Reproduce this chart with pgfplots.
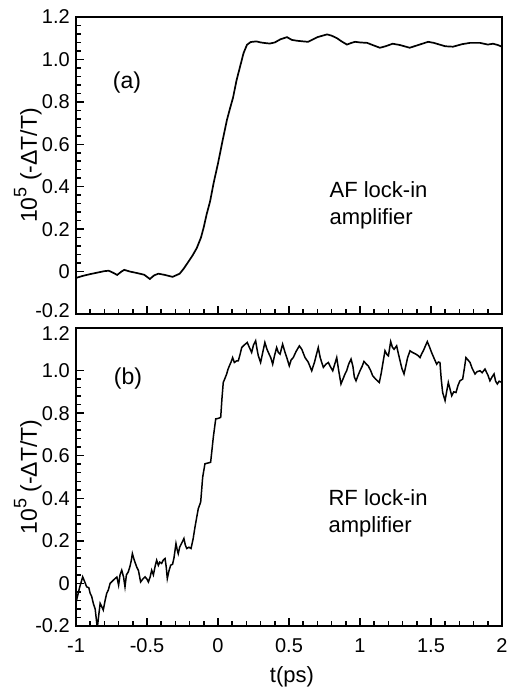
\documentclass[border=0pt]{standalone}
\usepackage{fontspec}
\setmainfont{Liberation Sans}
\usepackage{pgfplots}
\pgfplotsset{compat=1.18}

\pgfplotsset{
  panel/.style={
    scale only axis, width=426pt,
    xmin=-1, xmax=2, ymin=-0.2, ymax=1.2,
    xtick={-1,-0.5,0,0.5,1,1.5,2},
    minor x tick num=4, minor y tick num=4,
    tick align=inside, xtick pos=left, ytick pos=left,
    major tick length=8pt, minor tick length=5pt,
    every tick/.style={black, line width=1.5pt},
    axis line style={line width=2pt},
    ticklabel style={font=\fontsize{20}{22}\selectfont},
    xticklabel style={yshift=-9pt},
    yticklabel style={inner xsep=6pt, inner ysep=0pt},
    ylabel={10\raisebox{0.45em}{\fontsize{18}{20}\selectfont 5} (-ΔT/T)},
    ylabel style={font=\fontsize{23}{26}\selectfont, at={(axis description cs:-0.113,0.5)}, anchor=center},
  },
}

\begin{document}
\begin{tikzpicture}
\useasboundingbox (0,0) rectangle (508pt,690pt);

% (a) AF lock-in
\begin{axis}[panel, height=297pt, at={(76pt,376pt)}, anchor=south west,
  xticklabels={},
  ytick={0,0.2,0.4,0.6,0.8,1.0,1.2},
  yticklabels={0,0.2,0.4,0.6,0.8,1.0,1.2},
  extra y ticks={-0.2}, extra y tick labels={-0.2},
  extra y tick style={yticklabel style={yshift=3pt}}]
\addplot[black, line width=1.7pt] coordinates {
(-1.00,-0.030) (-0.95,-0.020) (-0.90,-0.012) (-0.85,-0.005) (-0.80,0.002)
(-0.77,0.004) (-0.74,-0.005) (-0.71,-0.016) (-0.68,0.000) (-0.66,0.008)
(-0.62,0.000) (-0.57,-0.007) (-0.52,-0.015) (-0.48,-0.035) (-0.45,-0.018)
(-0.42,-0.010) (-0.38,-0.015) (-0.32,-0.025) (-0.27,-0.010) (-0.24,0.015)
(-0.21,0.045) (-0.18,0.075) (-0.15,0.110) (-0.12,0.160) (-0.10,0.210)
(-0.08,0.270) (-0.056,0.330) (-0.03,0.420) (0.00,0.510) (0.03,0.610)
(0.063,0.715) (0.085,0.770) (0.106,0.820) (0.13,0.900) (0.155,0.965)
(0.18,1.030) (0.204,1.069) (0.23,1.082) (0.27,1.085) (0.30,1.080)
(0.345,1.076) (0.366,1.075) (0.40,1.080) (0.44,1.095) (0.486,1.105)
(0.52,1.092) (0.556,1.088) (0.60,1.085) (0.634,1.083) (0.70,1.105)
(0.768,1.118) (0.80,1.112) (0.838,1.100) (0.87,1.085) (0.908,1.070)
(0.94,1.078) (0.965,1.083) (1.00,1.080) (1.05,1.078) (1.10,1.065)
(1.14,1.055) (1.18,1.062) (1.23,1.074) (1.28,1.068) (1.35,1.055)
(1.42,1.070) (1.48,1.083) (1.52,1.078) (1.56,1.070) (1.60,1.062)
(1.655,1.060) (1.72,1.072) (1.775,1.078) (1.845,1.078) (1.90,1.070)
(1.937,1.074) (1.97,1.068) (2.00,1.060)
};
\node[font=\fontsize{23}{26}\selectfont] at (axis cs:-0.641,0.890) {(a)};
\node[font=\fontsize{22}{26}\selectfont, anchor=base west] at (axis cs:0.761,0.347) {AF lock-in};
\node[font=\fontsize{22}{26}\selectfont, anchor=base west] at (axis cs:0.761,0.220) {amplifier};
\end{axis}

% (b) RF lock-in
\begin{axis}[panel, height=298pt, at={(76pt,64pt)}, anchor=south west,
  xticklabels={-1,-0.5,0,0.5,1,1.5,2},
  ytick={-0.2,0,0.2,0.4,0.6,0.8,1.0},
  yticklabels={-0.2,0,0.2,0.4,0.6,0.8,1.0},
  extra y ticks={1.2}, extra y tick labels={1.2},
  extra y tick style={yticklabel style={yshift=-6pt}},
  xlabel={t(ps)},
  xlabel style={font=\fontsize{22}{26}\selectfont, at={(axis description cs:0.507,-0.172)}, anchor=center}]
\addplot[black, line width=1.5pt] coordinates {
(-1.000,-0.090) (-0.975,-0.020) (-0.953,0.031) (-0.94,0.010) (-0.925,-0.016)
(-0.91,-0.020) (-0.90,-0.047) (-0.89,-0.060) (-0.878,-0.094) (-0.865,-0.120)
(-0.85,-0.210) (-0.84,-0.150) (-0.83,-0.094) (-0.818,-0.110) (-0.808,-0.125)
(-0.795,-0.080) (-0.784,-0.047) (-0.772,-0.030) (-0.76,0.000) (-0.745,0.010)
(-0.725,0.023) (-0.712,0.030) (-0.70,-0.008) (-0.69,0.040) (-0.678,0.062)
(-0.665,0.030) (-0.655,-0.016) (-0.645,0.040) (-0.632,0.054) (-0.62,0.080)
(-0.61,0.110) (-0.603,0.140) (-0.59,0.110) (-0.573,0.078) (-0.56,0.060)
(-0.545,0.007) (-0.53,0.020) (-0.514,0.031) (-0.50,0.020) (-0.49,0.007)
(-0.478,0.030) (-0.467,0.062) (-0.455,0.040) (-0.443,0.080) (-0.432,0.109)
(-0.42,0.085) (-0.41,0.100) (-0.397,0.094) (-0.385,0.110) (-0.373,0.117)
(-0.365,0.080) (-0.357,0.023) (-0.345,0.060) (-0.333,0.086) (-0.32,0.090)
(-0.31,0.120) (-0.296,0.187) (-0.288,0.160) (-0.28,0.140) (-0.27,0.170)
(-0.255,0.190) (-0.24,0.211) (-0.23,0.180) (-0.22,0.164) (-0.205,0.170)
(-0.19,0.164) (-0.175,0.210) (-0.162,0.265) (-0.15,0.310) (-0.139,0.351)
(-0.122,0.382) (-0.115,0.440) (-0.108,0.499) (-0.092,0.562) (-0.075,0.565)
(-0.052,0.569) (-0.042,0.630) (-0.033,0.687) (-0.016,0.773) (0.000,0.775)
(0.019,0.780) (0.028,0.870) (0.037,0.944) (0.05,0.965) (0.061,0.984)
(0.07,1.005) (0.08,1.022) (0.092,1.040) (0.103,1.061) (0.115,1.038)
(0.13,1.045) (0.143,1.046) (0.155,1.075) (0.167,1.108) (0.185,1.120)
(0.206,1.132) (0.22,1.110) (0.237,1.085) (0.25,1.120) (0.265,1.140)
(0.275,1.100) (0.284,1.069) (0.300,1.038) (0.315,1.085) (0.330,1.132)
(0.345,1.100) (0.360,1.077) (0.372,1.060) (0.385,1.030) (0.398,1.070)
(0.413,1.108) (0.425,1.085) (0.437,1.077) (0.455,1.124) (0.47,1.090)
(0.485,1.060) (0.502,1.022) (0.515,1.050) (0.530,1.061) (0.550,1.090)
(0.573,1.116) (0.59,1.100) (0.613,1.061) (0.635,1.040) (0.660,0.999)
(0.680,1.040) (0.695,1.080) (0.706,1.108) (0.720,1.060) (0.742,1.015)
(0.760,1.030) (0.777,1.038) (0.790,1.020) (0.808,0.999) (0.822,1.030)
(0.836,1.061) (0.850,1.000) (0.866,0.937) (0.880,0.960) (0.895,0.985)
(0.906,0.999) (0.920,1.030) (0.937,1.054) (0.950,1.020) (0.960,0.970)
(0.972,0.952) (0.985,0.975) (1.000,0.999) (1.015,1.020) (1.028,1.043)
(1.045,1.030) (1.058,1.022) (1.075,1.000) (1.089,0.976) (1.110,0.960)
(1.136,0.944) (1.150,0.990) (1.165,1.050) (1.176,1.093) (1.190,1.075)
(1.200,1.069) (1.216,1.136) (1.228,1.110) (1.240,1.100) (1.258,1.116)
(1.270,1.080) (1.282,1.046) (1.295,1.010) (1.310,0.984) (1.322,1.020)
(1.335,1.060) (1.352,1.093) (1.370,1.085) (1.394,1.077) (1.410,1.070)
(1.423,1.061) (1.435,1.080) (1.446,1.093) (1.460,1.115) (1.474,1.136)
(1.490,1.110) (1.504,1.085) (1.520,1.060) (1.540,1.030) (1.552,1.040)
(1.563,1.038) (1.572,0.960) (1.582,0.897) (1.599,0.859) (1.610,0.900)
(1.622,0.944) (1.635,0.910) (1.646,0.882) (1.660,0.900) (1.676,0.897)
(1.690,0.930) (1.704,0.952) (1.723,0.960) (1.735,1.010) (1.746,1.061)
(1.760,1.050) (1.775,1.038) (1.790,1.010) (1.810,0.984) (1.825,0.995)
(1.845,0.999) (1.860,0.990) (1.880,1.007) (1.900,0.980) (1.915,0.952)
(1.930,0.970) (1.944,0.984) (1.955,0.950) (1.967,0.937) (1.980,0.950)
(2.000,0.944)
};
\node[font=\fontsize{23}{26}\selectfont] at (axis cs:-0.634,0.962) {(b)};
\node[font=\fontsize{22}{26}\selectfont, anchor=base west] at (axis cs:0.754,0.367) {RF lock-in};
\node[font=\fontsize{22}{26}\selectfont, anchor=base west] at (axis cs:0.754,0.240) {amplifier};
\end{axis}
\end{tikzpicture}
\end{document}
